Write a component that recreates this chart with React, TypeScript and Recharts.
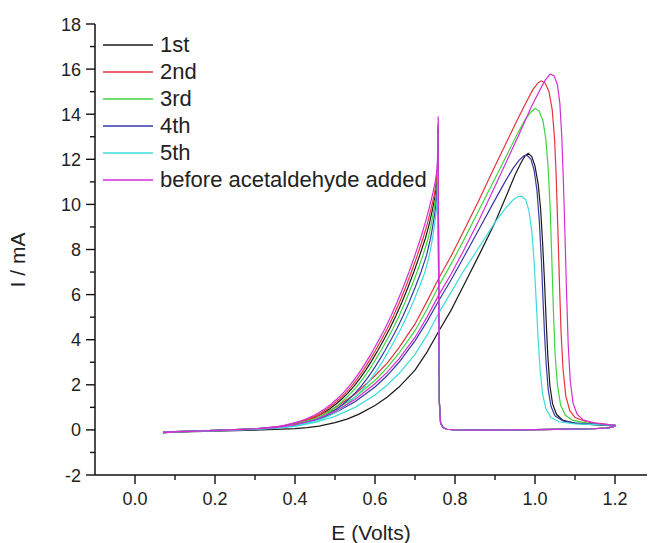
import { LineChart, Line, XAxis, YAxis, Legend } from "recharts";

// cyclic voltammograms, forward scan then return scan, [E (V), I (mA)]
const cycle1Fwd = [
  [0.07, -0.12], [0.12, -0.09], [0.2, -0.05], [0.25, -0.03], [0.3, -0.01], [0.35, 0.02],
  [0.4, 0.06], [0.43, 0.1], [0.46, 0.17], [0.5, 0.32], [0.53, 0.48], [0.56, 0.7],
  [0.6, 1.08], [0.63, 1.45], [0.66, 1.9], [0.7, 2.65], [0.73, 3.45], [0.76, 4.4],
  [0.79, 5.3], [0.82, 6.35], [0.86, 7.75], [0.9, 9.2], [0.93, 10.45], [0.95, 11.3],
  [0.965, 11.85], [0.975, 12.15], [0.983, 12.27], [0.992, 12.12], [1.0, 11.7], [1.008, 10.9],
  [1.014, 9.8], [1.019, 8.3], [1.024, 6.5], [1.028, 4.8], [1.032, 3.3], [1.037, 2.0],
  [1.044, 1.15], [1.054, 0.68], [1.07, 0.42], [1.1, 0.3], [1.15, 0.22], [1.2, 0.18],
];
const cycle1Rev = [
  [1.2, 0.16], [1.18, 0.08], [1.14, 0.05], [1.05, 0.02], [0.95, 0.0], [0.85, -0.01],
  [0.8, 0.0], [0.78, 0.03], [0.77, 0.1], [0.764, 0.3], [0.761, 1.2], [0.7595, 4.5],
  [0.7585, 9.5], [0.758, 13.4], [0.7575, 12.4], [0.757, 11.7], [0.7555, 11.2], [0.753, 10.75],
  [0.75, 10.35], [0.744, 9.8], [0.736, 9.15], [0.726, 8.5], [0.712, 7.75], [0.697, 7.0],
  [0.682, 6.3], [0.667, 5.65], [0.652, 5.05], [0.637, 4.5], [0.622, 4.0], [0.607, 3.52],
  [0.592, 3.07], [0.577, 2.65], [0.562, 2.27], [0.547, 1.93], [0.532, 1.63], [0.517, 1.37],
  [0.502, 1.14], [0.487, 0.94], [0.472, 0.77], [0.457, 0.62], [0.442, 0.5], [0.426, 0.4],
  [0.41, 0.32], [0.385, 0.21], [0.36, 0.13], [0.3, 0.05], [0.25, 0.01], [0.2, -0.02],
  [0.15, -0.05], [0.1, -0.08], [0.07, -0.1],
];

const cycle2Fwd = [
  [0.07, -0.12], [0.12, -0.08], [0.2, -0.03], [0.25, 0.0], [0.3, 0.05], [0.35, 0.12],
  [0.4, 0.27], [0.45, 0.55], [0.5, 0.98], [0.55, 1.58], [0.6, 2.4], [0.63, 2.95],
  [0.66, 3.65], [0.7, 4.7], [0.73, 5.7], [0.76, 6.75], [0.79, 7.7], [0.82, 8.75],
  [0.86, 10.2], [0.9, 11.7], [0.93, 12.8], [0.96, 13.9], [0.98, 14.6], [0.995, 15.1],
  [1.008, 15.4], [1.016, 15.48], [1.025, 15.4], [1.035, 15.0], [1.043, 14.2], [1.049, 12.9],
  [1.053, 11.2], [1.057, 9.0], [1.061, 6.6], [1.065, 4.4], [1.07, 2.7], [1.077, 1.5],
  [1.087, 0.85], [1.1, 0.55], [1.13, 0.35], [1.2, 0.2],
];
const cycle2Rev = [
  [1.2, 0.16], [1.18, 0.08], [1.14, 0.05], [1.05, 0.02], [0.95, 0.0], [0.85, -0.01],
  [0.8, 0.0], [0.78, 0.03], [0.77, 0.1], [0.764, 0.3], [0.761, 1.2], [0.7595, 4.5],
  [0.7585, 9.5], [0.758, 13.6], [0.7575, 12.5], [0.7565, 11.8], [0.755, 11.3], [0.752, 10.85],
  [0.748, 10.4], [0.74, 9.8], [0.731, 9.15], [0.72, 8.5], [0.706, 7.75], [0.691, 7.0],
  [0.676, 6.3], [0.661, 5.65], [0.646, 5.05], [0.631, 4.5], [0.616, 4.0], [0.601, 3.52],
  [0.586, 3.07], [0.571, 2.65], [0.556, 2.27], [0.541, 1.93], [0.526, 1.63], [0.511, 1.37],
  [0.496, 1.14], [0.481, 0.94], [0.466, 0.77], [0.451, 0.62], [0.436, 0.5], [0.42, 0.4],
  [0.405, 0.32], [0.38, 0.21], [0.355, 0.13], [0.3, 0.05], [0.25, 0.01], [0.2, -0.02],
  [0.15, -0.05], [0.1, -0.08], [0.07, -0.1],
];

const cycle3Fwd = [
  [0.07, -0.12], [0.12, -0.08], [0.2, -0.03], [0.25, 0.0], [0.3, 0.04], [0.35, 0.11],
  [0.4, 0.25], [0.45, 0.5], [0.5, 0.9], [0.55, 1.45], [0.6, 2.2], [0.63, 2.75],
  [0.66, 3.4], [0.7, 4.4], [0.73, 5.35], [0.76, 6.4], [0.79, 7.35], [0.82, 8.35],
  [0.86, 9.75], [0.9, 11.15], [0.93, 12.2], [0.955, 13.1], [0.975, 13.75], [0.99, 14.1],
  [1.0, 14.25], [1.01, 14.15], [1.02, 13.7], [1.027, 12.9], [1.033, 11.6], [1.038, 9.8],
  [1.042, 7.6], [1.046, 5.3], [1.05, 3.4], [1.056, 2.0], [1.064, 1.1], [1.076, 0.65],
  [1.095, 0.42], [1.13, 0.3], [1.2, 0.2],
];
const cycle3Rev = [
  [1.2, 0.16], [1.18, 0.08], [1.14, 0.05], [1.05, 0.02], [0.95, 0.0], [0.85, -0.01],
  [0.8, 0.0], [0.78, 0.03], [0.77, 0.1], [0.764, 0.3], [0.761, 1.2], [0.7595, 4.5],
  [0.7585, 9.5], [0.758, 13.5], [0.7575, 12.4], [0.757, 11.6], [0.756, 11.0], [0.754, 10.6],
  [0.751, 10.2], [0.747, 9.75], [0.741, 9.15], [0.733, 8.5], [0.72, 7.75], [0.705, 7.0],
  [0.69, 6.3], [0.675, 5.65], [0.66, 5.05], [0.645, 4.5], [0.63, 4.0], [0.615, 3.52],
  [0.6, 3.07], [0.585, 2.65], [0.57, 2.27], [0.555, 1.93], [0.54, 1.63], [0.525, 1.37],
  [0.51, 1.14], [0.495, 0.94], [0.48, 0.77], [0.465, 0.62], [0.45, 0.5], [0.434, 0.4],
  [0.418, 0.32], [0.392, 0.21], [0.366, 0.13], [0.3, 0.04], [0.25, 0.01], [0.2, -0.02],
  [0.15, -0.05], [0.1, -0.08], [0.07, -0.1],
];

const cycle4Fwd = [
  [0.07, -0.12], [0.12, -0.08], [0.2, -0.03], [0.25, 0.0], [0.3, 0.03], [0.35, 0.09],
  [0.4, 0.21], [0.45, 0.42], [0.5, 0.76], [0.55, 1.25], [0.6, 1.9], [0.63, 2.4],
  [0.66, 3.0], [0.7, 3.95], [0.73, 4.8], [0.76, 5.75], [0.79, 6.65], [0.82, 7.6],
  [0.86, 8.9], [0.9, 10.2], [0.925, 11.0], [0.945, 11.6], [0.96, 11.95], [0.972, 12.15],
  [0.98, 12.18], [0.99, 12.0], [0.998, 11.5], [1.005, 10.6], [1.011, 9.2], [1.016, 7.5],
  [1.02, 5.8], [1.024, 4.2], [1.028, 2.9], [1.033, 1.8], [1.04, 1.05], [1.05, 0.62],
  [1.07, 0.4], [1.1, 0.3], [1.2, 0.2],
];
const cycle4Rev = [
  [1.2, 0.16], [1.18, 0.08], [1.14, 0.05], [1.05, 0.02], [0.95, 0.0], [0.85, -0.01],
  [0.8, 0.0], [0.78, 0.03], [0.77, 0.1], [0.764, 0.3], [0.761, 1.2], [0.7595, 4.5],
  [0.7585, 9.5], [0.758, 13.3], [0.7575, 12.2], [0.757, 11.4], [0.756, 10.8], [0.7545, 10.35],
  [0.752, 9.95], [0.749, 9.55], [0.745, 9.1], [0.739, 8.5], [0.729, 7.75], [0.715, 7.0],
  [0.7, 6.3], [0.685, 5.65], [0.67, 5.05], [0.655, 4.5], [0.64, 4.0], [0.625, 3.52],
  [0.61, 3.07], [0.595, 2.65], [0.58, 2.27], [0.565, 1.93], [0.55, 1.63], [0.535, 1.37],
  [0.52, 1.14], [0.505, 0.94], [0.49, 0.77], [0.475, 0.62], [0.46, 0.5], [0.443, 0.4],
  [0.426, 0.32], [0.398, 0.21], [0.37, 0.13], [0.3, 0.04], [0.25, 0.01], [0.2, -0.02],
  [0.15, -0.05], [0.1, -0.08], [0.07, -0.1],
];

const cycle5Fwd = [
  [0.07, -0.12], [0.12, -0.08], [0.2, -0.04], [0.25, -0.01], [0.3, 0.02], [0.35, 0.07],
  [0.4, 0.16], [0.45, 0.33], [0.5, 0.6], [0.55, 1.0], [0.6, 1.55], [0.63, 1.98],
  [0.66, 2.5], [0.7, 3.35], [0.73, 4.2], [0.76, 5.2], [0.79, 6.1], [0.82, 7.0],
  [0.86, 8.1], [0.9, 9.2], [0.925, 9.8], [0.945, 10.2], [0.958, 10.35], [0.967, 10.37],
  [0.977, 10.2], [0.985, 9.7], [0.992, 8.8], [0.998, 7.4], [1.003, 5.7], [1.008, 4.0],
  [1.013, 2.6], [1.019, 1.6], [1.027, 0.95], [1.04, 0.55], [1.06, 0.36], [1.1, 0.27],
  [1.2, 0.2],
];
const cycle5Rev = [
  [1.2, 0.16], [1.18, 0.08], [1.14, 0.05], [1.05, 0.02], [0.95, 0.0], [0.85, -0.01],
  [0.8, 0.0], [0.78, 0.03], [0.77, 0.1], [0.764, 0.3], [0.761, 1.2], [0.7595, 4.5],
  [0.7585, 9.5], [0.758, 13.2], [0.7575, 12.0], [0.757, 11.2], [0.7565, 10.6], [0.7555, 10.15],
  [0.7535, 9.75], [0.751, 9.4], [0.748, 9.0], [0.744, 8.5], [0.736, 7.75], [0.725, 7.0],
  [0.71, 6.3], [0.695, 5.65], [0.68, 5.05], [0.665, 4.5], [0.65, 4.0], [0.635, 3.52],
  [0.62, 3.07], [0.605, 2.65], [0.59, 2.27], [0.575, 1.93], [0.56, 1.63], [0.545, 1.37],
  [0.53, 1.14], [0.515, 0.94], [0.5, 0.77], [0.485, 0.62], [0.47, 0.5], [0.452, 0.4],
  [0.435, 0.32], [0.405, 0.21], [0.375, 0.13], [0.3, 0.04], [0.25, 0.01], [0.2, -0.02],
  [0.15, -0.05], [0.1, -0.08], [0.07, -0.1],
];

const beforeFwd = [
  [0.07, -0.12], [0.12, -0.08], [0.2, -0.03], [0.25, 0.0], [0.3, 0.04], [0.35, 0.1],
  [0.4, 0.22], [0.45, 0.45], [0.5, 0.82], [0.55, 1.35], [0.6, 2.05], [0.63, 2.55],
  [0.66, 3.15], [0.7, 4.1], [0.73, 5.0], [0.76, 6.0], [0.79, 6.9], [0.82, 7.9],
  [0.86, 9.3], [0.9, 10.8], [0.93, 11.95], [0.96, 13.1], [0.99, 14.3], [1.01, 15.0],
  [1.025, 15.5], [1.038, 15.78], [1.048, 15.7], [1.056, 15.3], [1.062, 14.5], [1.067, 13.0],
  [1.071, 11.0], [1.075, 8.6], [1.079, 6.0], [1.083, 3.8], [1.088, 2.2], [1.095, 1.2],
  [1.105, 0.7], [1.12, 0.45], [1.15, 0.3], [1.2, 0.2],
];
const beforeRev = [
  [1.2, 0.16], [1.18, 0.08], [1.14, 0.05], [1.05, 0.02], [0.95, 0.0], [0.85, -0.01],
  [0.8, 0.0], [0.78, 0.03], [0.77, 0.1], [0.764, 0.3], [0.761, 1.2], [0.7595, 4.5],
  [0.7585, 9.5], [0.758, 13.9], [0.757, 12.6], [0.756, 11.9], [0.754, 11.4], [0.75, 10.95],
  [0.744, 10.45], [0.735, 9.8], [0.725, 9.15], [0.714, 8.5], [0.7, 7.75], [0.685, 7.0],
  [0.67, 6.3], [0.655, 5.65], [0.64, 5.05], [0.625, 4.5], [0.61, 4.0], [0.595, 3.52],
  [0.58, 3.07], [0.565, 2.65], [0.55, 2.27], [0.535, 1.93], [0.52, 1.63], [0.505, 1.37],
  [0.49, 1.14], [0.475, 0.94], [0.46, 0.77], [0.445, 0.62], [0.43, 0.5], [0.415, 0.4],
  [0.4, 0.32], [0.375, 0.21], [0.35, 0.13], [0.3, 0.05], [0.25, 0.01], [0.2, -0.02],
  [0.15, -0.05], [0.1, -0.08], [0.07, -0.1],
];

const seriesNames = ["1st", "2nd", "3rd", "4th", "5th", "before acetaldehyde added"];
const seriesColors = ["#1a1a1a", "#e5343c", "#3ed43e", "#3838a6", "#3cdcdc", "#d42ed4"];
const seriesData = [
  [...cycle1Fwd, ...cycle1Rev],
  [...cycle2Fwd, ...cycle2Rev],
  [...cycle3Fwd, ...cycle3Rev],
  [...cycle4Fwd, ...cycle4Rev],
  [...cycle5Fwd, ...cycle5Rev],
  [...beforeFwd, ...beforeRev],
];

const xMajorTicks = [0, 0.2, 0.4, 0.6, 0.8, 1.0, 1.2];
const xMinorTicks = [0.1, 0.3, 0.5, 0.7, 0.9, 1.1];
const yMajorTicks = [-2, 0, 2, 4, 6, 8, 10, 12, 14, 16, 18];
const yMinorTicks = [-1, 1, 3, 5, 7, 9, 11, 13, 15, 17];

const font = "'Liberation Sans', Arial, sans-serif";
const ink = "#111";

function XTick(props: any) {
  const { x, y, payload } = props;
  const major = xMajorTicks.includes(payload.value);
  return (
    <g>
      <line x1={x} x2={x} y1={y} y2={y + (major ? 9 : 5)} stroke={ink} strokeWidth={1.4} />
      {major && (
        <text x={x} y={y + 30} textAnchor="middle" fontSize={18} fontFamily={font} fill="#222">
          {payload.value.toFixed(1)}
        </text>
      )}
    </g>
  );
}

function YTick(props: any) {
  const { x, y, payload } = props;
  const major = yMajorTicks.includes(payload.value);
  return (
    <g>
      <line x1={x - (major ? 9 : 5)} x2={x} y1={y} y2={y} stroke={ink} strokeWidth={1.4} />
      {major && (
        <text x={x - 14} y={y + 6.5} textAnchor="end" fontSize={18} fontFamily={font} fill="#222">
          {payload.value}
        </text>
      )}
    </g>
  );
}

function LegendBox({ payload }: any) {
  return (
    <div style={{ fontFamily: font, fontSize: 22, color: "#222" }}>
      {(payload || []).map((p: any) => (
        <div key={p.value} style={{ height: 27, display: "flex", alignItems: "center" }}>
          <svg width={57} height={4} style={{ flex: "none" }}>
            <line x1={0} x2={50} y1={2} y2={2} stroke={p.color} strokeWidth={1.6} />
          </svg>
          <span style={{ whiteSpace: "nowrap", lineHeight: "27px" }}>{p.value}</span>
        </div>
      ))}
    </div>
  );
}

export default function App() {
  return (
    <div style={{ position: "absolute", left: 0, top: 0, width: 650, height: 543, background: "#fff" }}>
      <LineChart width={650} height={543} margin={{ top: 24, right: 3, left: 0, bottom: 0 }}>
        <XAxis
          type="number"
          dataKey="e"
          domain={[-0.1, 1.28]}
          ticks={[...xMajorTicks, ...xMinorTicks].sort((a, b) => a - b)}
          interval={0}
          height={68}
          tickSize={0}
          tickMargin={0}
          tickLine={false}
          tick={<XTick />}
          axisLine={{ stroke: ink, strokeWidth: 1.5 }}
          allowDataOverflow
          label={{
            value: "E (Volts)",
            position: "insideBottom",
            offset: 3,
            fontSize: 21,
            fontFamily: font,
            fill: "#222",
          }}
        />
        <YAxis
          type="number"
          domain={[-2, 18]}
          ticks={[...yMajorTicks, ...yMinorTicks].sort((a, b) => a - b)}
          interval={0}
          width={95}
          tickSize={0}
          tickMargin={0}
          tickLine={false}
          tick={<YTick />}
          axisLine={{ stroke: ink, strokeWidth: 1.5 }}
          allowDataOverflow
          label={{
            content: () => (
              <text
                x={25}
                y={260}
                transform="rotate(-90 25 260)"
                textAnchor="middle"
                fontSize={21}
                fontFamily={font}
                fill="#222"
              >
                I / mA
              </text>
            ),
          }}
        />
        <Legend
          layout="vertical"
          align="center"
          verticalAlign="middle"
          content={<LegendBox />}
          wrapperStyle={{ left: 103, top: 31, width: 340, height: 170 }}
        />
        {seriesData.map((pairs, idx) => (
          <Line
            key={seriesNames[idx]}
            name={seriesNames[idx]}
            data={pairs.map(([e, i]) => ({ e, i }))}
            dataKey="i"
            type="linear"
            stroke={seriesColors[idx]}
            strokeWidth={1.2}
            dot={false}
            activeDot={false}
            isAnimationActive={false}
          />
        ))}
      </LineChart>
    </div>
  );
}
